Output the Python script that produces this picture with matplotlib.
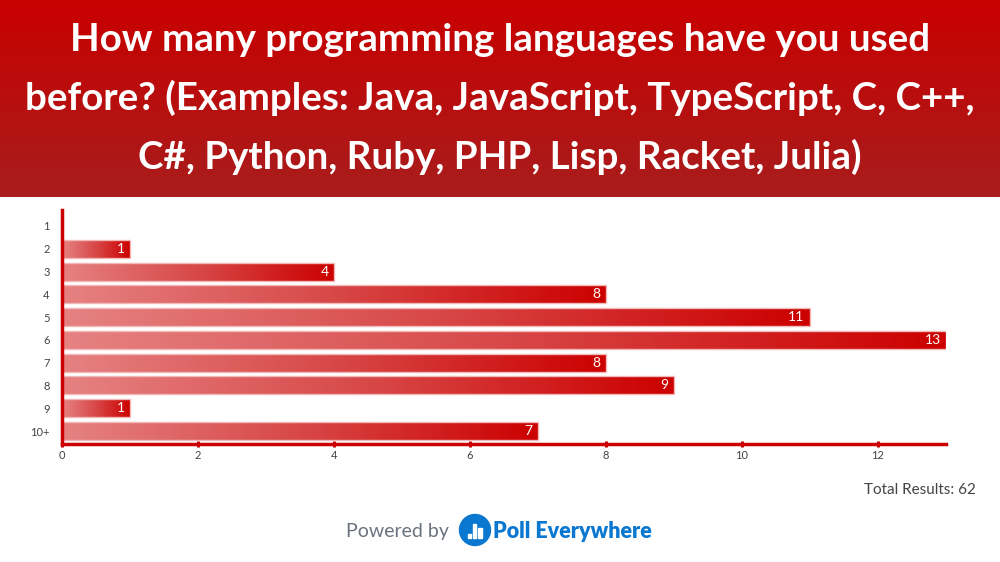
import numpy as np
import matplotlib
matplotlib.use("Agg")
import matplotlib.pyplot as plt
from matplotlib.colors import LinearSegmentedColormap
from matplotlib.patches import Circle, Rectangle

# ---- data ----
categories = ["1", "2", "3", "4", "5", "6", "7", "8", "9", "10+"]
counts = [0, 1, 4, 8, 11, 13, 8, 9, 1, 7]
x_ticks = [0, 2, 4, 6, 8, 10, 12]
title_lines = [
    "How many programming languages have you used",
    "before? (Examples: Java, JavaScript, TypeScript, C, C++,",
    "C#, Python, Ruby, PHP, Lisp, Racket, Julia)",
]
total_text = "Total Results: 62"

plt.rcParams['font.family'] = ['Lato', 'DejaVu Sans']

W, H = 1000, 562
fig = plt.figure(figsize=(W / 100, H / 100), dpi=100)
fig.patch.set_facecolor("white")

# ---- header band with vertical gradient ----
hdr_bot = 197
hax = fig.add_axes([0, 1 - hdr_bot / H, 1, hdr_bot / H])
hcmap = LinearSegmentedColormap.from_list("hdr", ["#c90000", "#a81d1d"])
hax.imshow(np.linspace(0, 1, 256).reshape(-1, 1), cmap=hcmap, aspect="auto",
           extent=[0, 1, 0, 1], origin="upper")
hax.set_xlim(0, 1)
hax.set_ylim(0, 1)
hax.axis("off")
line_y = [40, 98, 157]
for txt, yy in zip(title_lines, line_y):
    fig.text(0.5, 1 - yy / H, txt, ha="center", va="center", color="white",
             fontsize=27.7, fontweight="bold")

# ---- main chart ----
ax_left, ax_right = 62, 946
ax_top, ax_bot = 210, 444
ax = fig.add_axes([ax_left / W, 1 - ax_bot / H, (ax_right - ax_left) / W,
                   (ax_bot - ax_top) / H])
ypos = np.arange(len(categories))
bar_h = 0.79
cmap = LinearSegmentedColormap.from_list("bar", ["#e68282", "#d84848", "#cc0000"])
grad = np.linspace(0, 1, 256).reshape(1, -1)

bars = ax.barh(ypos, counts, height=bar_h, color="none",
               edgecolor="#f2b8b8", linewidth=1.0, zorder=3)
for b, v in zip(bars, counts):
    if v <= 0:
        b.set_linewidth(0)
        continue
    y0 = b.get_y()
    im = ax.imshow(grad, cmap=cmap, aspect="auto",
                   extent=[0, v, y0 + bar_h, y0], zorder=2, interpolation="bilinear")
    im.set_clip_path(b)
    ax.text(v - 0.08, y0 + bar_h / 2, str(v), ha="right", va="center",
            color="white", fontsize=10, zorder=4)

ax.set_xlim(0, 13)
ax.set_ylim(len(categories) - 1 + 0.57, -0.70)
ax.set_yticks(ypos)
ax.set_yticklabels(categories)
ax.set_xticks(x_ticks)
ax.tick_params(axis="y", length=0, pad=9, labelsize=8, labelcolor="#444444")
ax.tick_params(axis="x", length=4, width=2.2, color="#cc0000", direction="inout",
               pad=2, labelsize=8, labelcolor="#444444")
for s in ["top", "right"]:
    ax.spines[s].set_visible(False)
for s in ["left", "bottom"]:
    ax.spines[s].set_color("#cc0000")
    ax.spines[s].set_linewidth(2.5)
    ax.spines[s].set_zorder(5)
ax.set_facecolor("none")

# ---- footer ----
fig.text(976 / W, 1 - 490 / H, total_text, ha="right", va="center",
         color="#444444", fontsize=11)
fig.text(449 / W, 1 - 532 / H, "Powered by", ha="right", va="center",
         color="#6b7280", fontsize=14)
fig.text(493 / W, 1 - 531 / H, "Poll Everywhere", ha="left", va="center",
         color="#0a77d0", fontsize=15.5, fontweight="heavy")

# logo
lax = fig.add_axes([455 / W, 1 - 550 / H, 40 / W, 40 / H])
lax.set_xlim(0, 40)
lax.set_ylim(0, 40)
lax.set_aspect("equal")
lax.axis("off")
lax.add_patch(Circle((20, 20), 15.5, color="#0a77d0"))
for bx, bh in [(12.5, 4), (17.5, 14), (23, 10)]:
    lax.add_patch(Rectangle((bx, 12), 3.5, bh, color="white"))

fig.savefig("out.png", dpi=100, facecolor="white")
